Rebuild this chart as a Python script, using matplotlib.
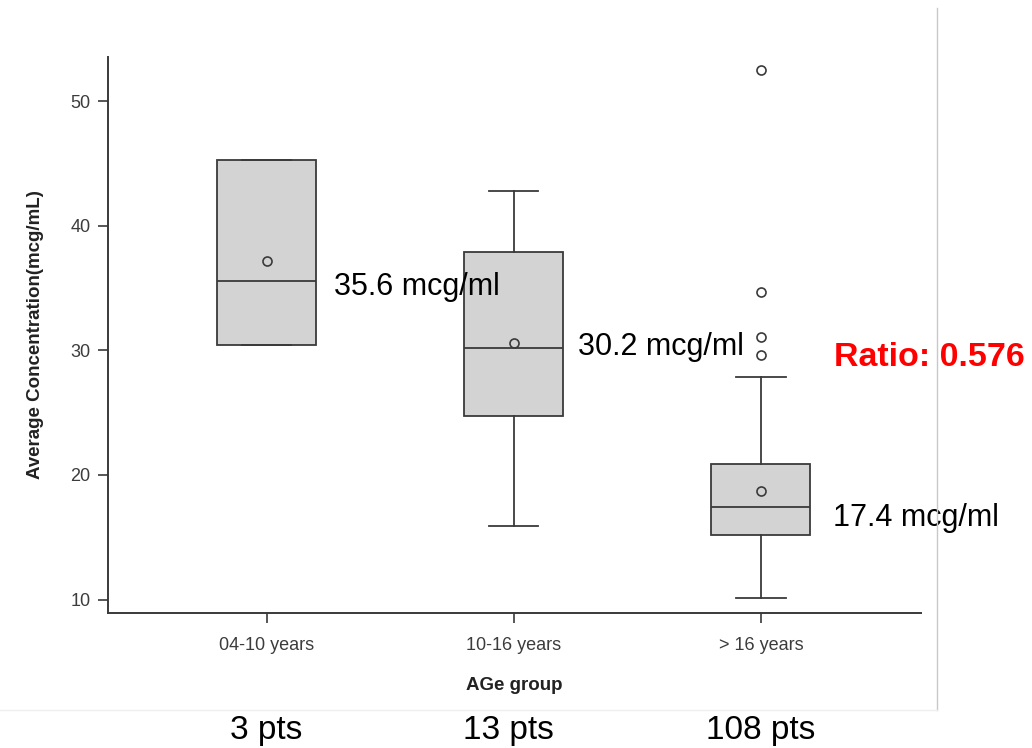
import numpy as np
import matplotlib
matplotlib.use("Agg")
import matplotlib.pyplot as plt
import matplotlib.transforms as mtransforms
from matplotlib.lines import Line2D

plt.rcParams['font.family'] = ['Liberation Sans', 'DejaVu Sans']

# data
groups = ['04-10 years', '10-16 years', '> 16 years']
n_pts = ['3 pts', '13 pts', '108 pts']
q1 = [30.4, 24.7, 15.2]
medians = [35.6, 30.2, 17.4]
q3 = [45.3, 37.9, 20.9]
means = [37.2, 30.6, 18.7]
whis_lo = [30.4, 15.9, 10.1]
whis_hi = [45.3, 42.8, 27.9]
fliers = [[], [], [29.6, 31.1, 34.7, 52.5]]
median_labels = ['35.6 mcg/ml', '30.2 mcg/ml', '17.4 mcg/ml']
ratio_text = 'Ratio: 0.576'

dark = '#3a3a3a'

fig = plt.figure(figsize=(10.32, 7.48), dpi=100)
ax = fig.add_axes([0.1047, 0.1805, 0.7877, 0.7433])

stats = []
for i, g in enumerate(groups):
    stats.append(dict(label=g, med=medians[i], q1=q1[i], q3=q3[i],
                      whislo=whis_lo[i], whishi=whis_hi[i],
                      mean=means[i], fliers=fliers[i]))

pos = np.arange(1, len(groups) + 1)
ax.bxp(stats, positions=pos, widths=0.4, patch_artist=True, showmeans=True,
       boxprops=dict(facecolor='#d3d3d3', edgecolor=dark, linewidth=1.3),
       medianprops=dict(color=dark, linewidth=1.3),
       whiskerprops=dict(color=dark, linewidth=1.3),
       capprops=dict(color=dark, linewidth=1.3),
       meanprops=dict(marker='o', markerfacecolor='none', markeredgecolor=dark,
                      markersize=6.5, markeredgewidth=1.2),
       flierprops=dict(marker='o', markerfacecolor='none', markeredgecolor=dark,
                       markersize=6.5, markeredgewidth=1.2))

ax.set_xlim(0.358, 3.648)
ax.set_ylim(8.93, 53.53)
ax.set_yticks([10, 20, 30, 40, 50])
ax.set_xticks(pos)
ax.set_xticklabels(groups)

for s in ['top', 'right']:
    ax.spines[s].set_visible(False)
for s in ['left', 'bottom']:
    ax.spines[s].set_color(dark)
    ax.spines[s].set_linewidth(1.4)

ax.tick_params(axis='both', colors=dark, labelcolor='#3c3c3c', labelsize=13,
               length=7.5, width=1.2)
ax.tick_params(axis='y', pad=5)
ax.tick_params(axis='x', pad=10)

ax.set_ylabel('Average Concentration(mcg/mL)', fontsize=13.5, fontweight='bold',
              color='#222222', labelpad=19)
ax.set_xlabel('AGe group', fontsize=13.5, fontweight='bold', color='#222222',
              labelpad=16)

# median labels next to boxes
label_x = [1.273, 2.259, 3.291]
label_y = [34.4, 29.6, 15.9]
for x, y, t in zip(label_x, label_y, median_labels):
    ax.text(x, y, t, fontsize=22, color='black', va='baseline', ha='left',
            clip_on=False, zorder=5)

# patient counts under the chart
trans = mtransforms.blended_transform_factory(ax.transData, fig.transFigure)
count_x = [1.0, 1.98, 3.0]
for x, t in zip(count_x, n_pts):
    fig.text(x, 0.0116, t, transform=trans, fontsize=24, color='black',
             ha='center', va='baseline')

fig.text(0.808, 0.5107, ratio_text, fontsize=24.5, fontweight='bold',
         color='#ff0000', ha='left', va='baseline')

# border of the pasted chart image
fig.add_artist(Line2D([936.5 / 1032, 936.5 / 1032], [1 - 8 / 748, 1 - 710 / 748],
                      transform=fig.transFigure, color='#c8c8c8', linewidth=1.0))
fig.add_artist(Line2D([0, 936.5 / 1032], [1 - 710 / 748, 1 - 710 / 748],
                      transform=fig.transFigure, color='#eeeeee', linewidth=1.0))

fig.savefig('out.png', dpi=100)
